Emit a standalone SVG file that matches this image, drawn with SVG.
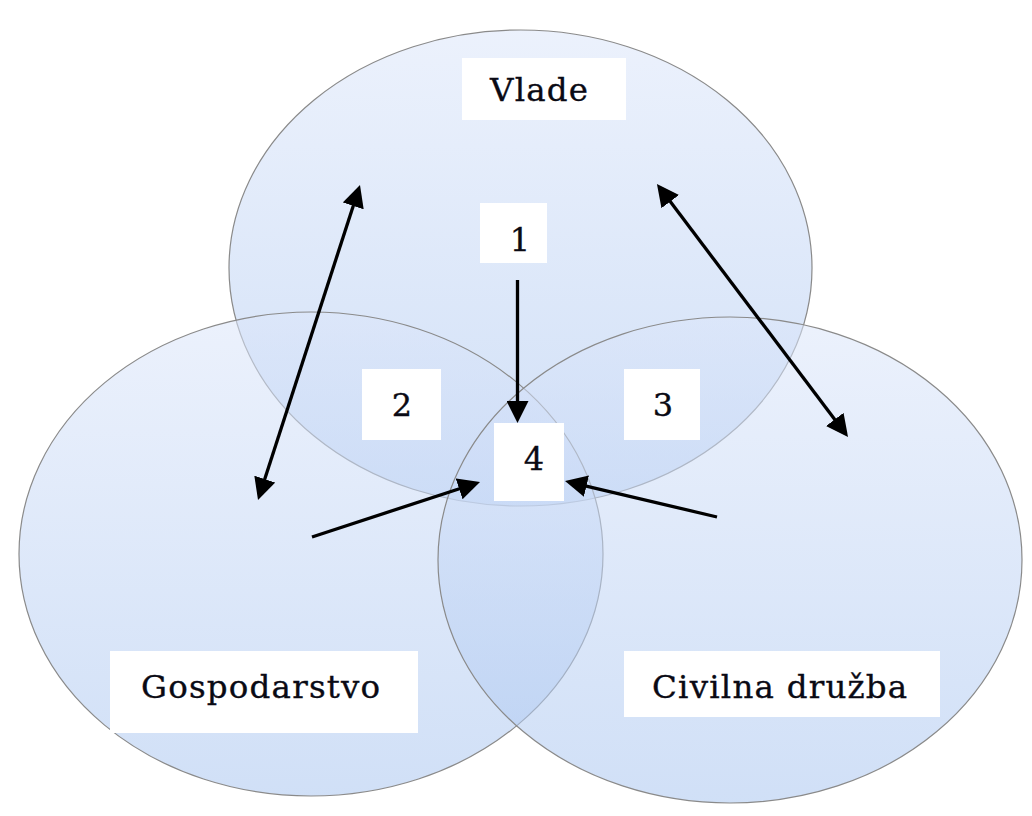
<svg xmlns="http://www.w3.org/2000/svg" width="1032" height="816" viewBox="0 0 1032 816">
<style>
.circle{stroke:#8a8a8a;stroke-width:1.2;fill:url(#g)}
.box{fill:#ffffff}
.lbl{font-family:"DejaVu Serif","Liberation Serif",serif;font-size:32.5px;fill:#0a0a14;stroke:#0a0a14;stroke-width:0.35;letter-spacing:1.2px}
.num{font-family:"DejaVu Serif","Liberation Serif",serif;font-size:32px;fill:#0a0a14;stroke:#0a0a14;stroke-width:0.35;text-anchor:middle}
.arr{stroke:#000;stroke-width:3.3;fill:none}
</style>
<defs>
<linearGradient id="g" x1="0" y1="0" x2="0" y2="1">
<stop offset="0" stop-color="rgb(220,230,250)" stop-opacity="0.55"/>
<stop offset="1" stop-color="rgb(170,198,240)" stop-opacity="0.55"/>
</linearGradient>
<marker id="ah" viewBox="0 0 22 22" refX="10" refY="11" markerWidth="22" markerHeight="22" markerUnits="userSpaceOnUse" orient="auto-start-reverse">
<path d="M0,0 L22,11 L0,22 z" fill="#000"/>
</marker>
</defs>
<rect width="1032" height="816" fill="#ffffff"/>
<g id="circle-vlade"><ellipse class="circle" cx="520.5" cy="268" rx="291.5" ry="238"/></g>
<g id="circle-gospodarstvo"><ellipse class="circle" cx="311" cy="554" rx="292" ry="242"/></g>
<g id="circle-civilna"><ellipse class="circle" cx="730" cy="560" rx="292" ry="243"/></g>
<g id="connectors">
<line class="arr" x1="517.5" y1="280" x2="517.5" y2="411" marker-end="url(#ah)"/>
<line class="arr" x1="312" y1="537" x2="468.6" y2="485.7" marker-end="url(#ah)"/>
<line class="arr" x1="717" y1="517" x2="576.7" y2="483.8" marker-end="url(#ah)"/>
<line class="arr" x1="356.3" y1="196.4" x2="261.7" y2="488.6" marker-start="url(#ah)" marker-end="url(#ah)"/>
<line class="arr" x1="664.2" y1="193.6" x2="840.8" y2="427.4" marker-start="url(#ah)" marker-end="url(#ah)"/>
</g>
<g id="label-vlade"><rect class="box" x="462" y="58" width="164" height="62"/><text class="lbl" x="490" y="101">Vlade</text></g>
<g id="label-1"><rect class="box" x="480" y="203" width="67" height="60"/><text class="num" x="520" y="251">1</text></g>
<g id="label-2"><rect class="box" x="362" y="369" width="79" height="71"/><text class="num" x="402" y="416">2</text></g>
<g id="label-3"><rect class="box" x="624" y="369" width="76" height="71"/><text class="num" x="663" y="416">3</text></g>
<g id="label-4"><rect class="box" x="494" y="423" width="70" height="78"/><text class="num" x="534" y="470">4</text></g>
<g id="label-gospodarstvo"><rect class="box" x="110" y="651" width="308" height="82"/><text class="lbl" x="141" y="698">Gospodarstvo</text></g>
<g id="label-civilna"><rect class="box" x="624" y="651" width="316" height="66"/><text class="lbl" x="652" y="698">Civilna družba</text></g>
</svg>
